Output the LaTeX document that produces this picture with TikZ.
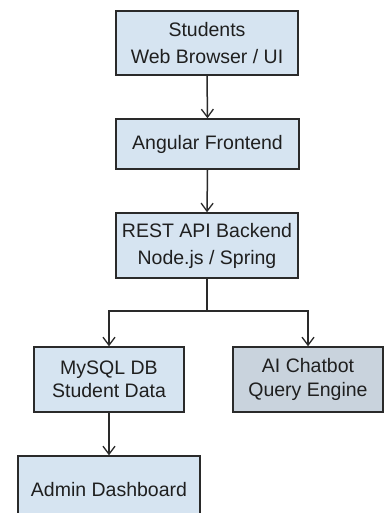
\documentclass[tikz,border=0pt]{standalone}
\usepackage{fontspec}
\setmainfont{Liberation Sans}
\usetikzlibrary{arrows.meta}
\definecolor{boxblue}{HTML}{D6E4F1}
\definecolor{boxgray}{HTML}{C9D3DD}
\definecolor{edge}{HTML}{2A2A2A}
\begin{document}
\begin{tikzpicture}[x=1pt,y=-1pt,
  box/.style={draw=edge, line width=1.5pt, fill=boxblue, align=center, inner sep=0pt,
    font=\fontsize{19.5}{27}\selectfont, text=black!88},
  conn/.style={draw=edge, line width=1.5pt, -{Straight Barb[length=8pt,width=12pt,line width=1.3pt]}},
  plain/.style={draw=edge, line width=1.5pt}]
\fill[white] (0,0) rectangle (386,513);
\useasboundingbox (0,0) rectangle (386,513);
\clip (0,0) rectangle (386,513);
\node[box, minimum width=182pt, minimum height=64pt] (ui) at (207,43) {Students\\Web Browser / UI};
\node[box, minimum width=183pt, minimum height=50pt] (ng) at (207.5,144) {Angular Frontend};
\node[box, minimum width=182pt, minimum height=65pt] (api) at (207,245.5) {REST API Backend\\Node.js / Spring};
\node[box, minimum width=150pt, minimum height=65pt, font=\fontsize{19.5}{23.5}\selectfont] (db) at (109,379.5) {MySQL DB\\Student Data};
\node[box, fill=boxgray, minimum width=150pt, minimum height=65pt, font=\fontsize{19.5}{24.5}\selectfont] (ai) at (308,379.5) {AI Chatbot\\Query Engine};
\node[box, minimum width=182pt, minimum height=68pt] (adm) at (109,490) {Admin Dashboard};
\coordinate (j) at (207,311);
\coordinate (jl) at (109,311);
\coordinate (jr) at (308,311);
\draw[conn] (ui.south) -- (ng.north);
\draw[conn] (ng.south) -- (api.north);
\draw[plain] (api.south) -- (j);
\draw[plain, line cap=rect] (jl) -- (jr);
\draw[conn] (jl) -- (db.north);
\draw[conn] (jr) -- (ai.north);
\draw[conn] (db.south) -- (adm.north);
\end{tikzpicture}
\end{document}
